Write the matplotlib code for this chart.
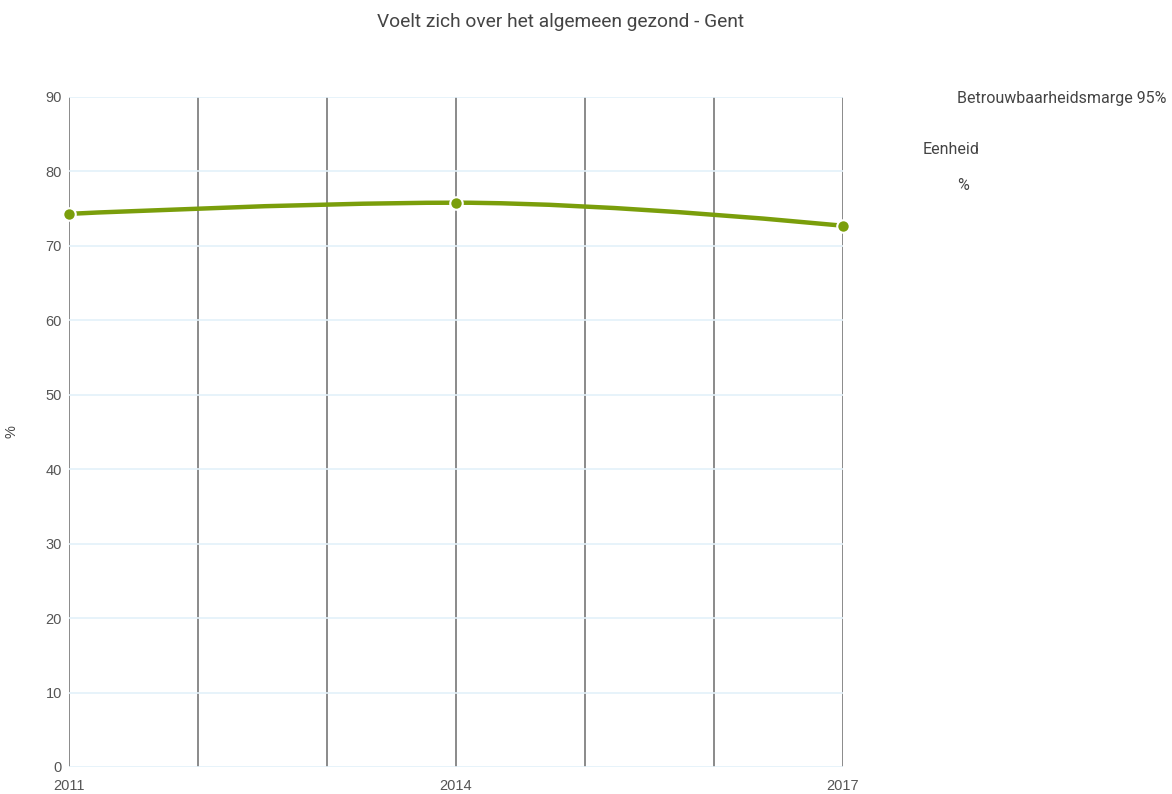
import numpy as np
import matplotlib
matplotlib.use("Agg")
import matplotlib.pyplot as plt
from matplotlib.path import Path
from matplotlib.patches import PathPatch

plt.rcParams['font.family'] = ['Liberation Sans', 'DejaVu Sans']

title = "Voelt zich over het algemeen gezond - Gent"
years = [2011, 2014, 2017]
values = [74.3, 75.8, 72.7]
grid_years = [2011, 2012, 2013, 2014, 2015, 2016, 2017]
y_ticks = [0, 10, 20, 30, 40, 50, 60, 70, 80, 90]
unit = "%"

green = '#7a9e0b'
head_font = ['Roboto', 'DejaVu Sans']


def spline_path(xs, ys, smoothing=1.5):
    # highcharts-style spline: control points from neighbours, no false extremes
    n = len(xs)
    right = [None] * n
    verts = [(xs[0], ys[0])]
    codes = [Path.MOVETO]
    for i in range(1, n):
        x, y = xs[i], ys[i]
        lx = ly = None
        if i < n - 1:
            px, py = xs[i - 1], ys[i - 1]
            nx, ny = xs[i + 1], ys[i + 1]
            d = smoothing + 1
            lx, ly = (smoothing * x + px) / d, (smoothing * y + py) / d
            rx, ry = (smoothing * x + nx) / d, (smoothing * y + ny) / d
            corr = (ry - ly) * (rx - x) / (rx - lx) + y - ry
            ly += corr
            ry += corr
            if ly > py and ly > y:
                ly = max(py, y); ry = 2 * y - ly
            elif ly < py and ly < y:
                ly = min(py, y); ry = 2 * y - ly
            if ry > ny and ry > y:
                ry = max(ny, y); ly = 2 * y - ry
            elif ry < ny and ry < y:
                ry = min(ny, y); ly = 2 * y - ry
            right[i] = (rx, ry)
        c1 = right[i - 1] if right[i - 1] is not None else (xs[i - 1], ys[i - 1])
        c2 = (lx, ly) if lx is not None else (x, y)
        verts += [c1, c2, (x, y)]
        codes += [Path.CURVE4] * 3
    return Path(verts, codes)


fig = plt.figure(figsize=(11.72, 7.94), dpi=100)
ax = fig.add_axes([69 / 1172, 1 - 767 / 794, (843 - 69) / 1172, (767 - 97) / 794])
ax.set_xlim(2011, 2017)
ax.set_ylim(0, 90)

ax.set_xticks(grid_years)
ax.set_xticklabels([str(y) if y in years else '' for y in grid_years])
ax.set_yticks(y_ticks)
ax.grid(axis='y', color='#e3f1fa', lw=1.2, zorder=0)
ax.grid(axis='x', color='#8a8a8a', lw=1.4, zorder=1)
for s in ax.spines.values():
    s.set_visible(False)
ax.tick_params(length=0, labelsize=10.5, labelcolor='#555555')
ax.tick_params(axis='x', pad=9)
ax.tick_params(axis='y', pad=5)
ax.set_ylabel(unit, fontsize=10.5, color='#444444')
ax.yaxis.set_label_coords(-50 / 774, 0.5)

ax.add_patch(PathPatch(spline_path(years, values), fill=False, edgecolor=green,
                       lw=3.2, zorder=3, capstyle='round'))
ax.plot(years, values, 'o', color=green, ms=9, mec='white', mew=1.5,
        zorder=4, clip_on=False)

fig.text(561 / 1172, 1 - 22 / 794, title, ha='center', va='center',
         fontsize=13.8, color='#444444', family=head_font)
fig.text(957 / 1172, 1 - 98 / 794, "Betrouwbaarheidsmarge 95%", ha='left',
         va='center', fontsize=11.5, color='#444444', family=head_font)
fig.text(923 / 1172, 1 - 149 / 794, "Eenheid", ha='left', va='center',
         fontsize=11.5, color='#444444', family=head_font)
fig.text(957 / 1172, 1 - 185 / 794, unit, ha='left', va='center',
         fontsize=11.5, color='#444444', family=head_font)

fig.savefig("out.png", dpi=100)
